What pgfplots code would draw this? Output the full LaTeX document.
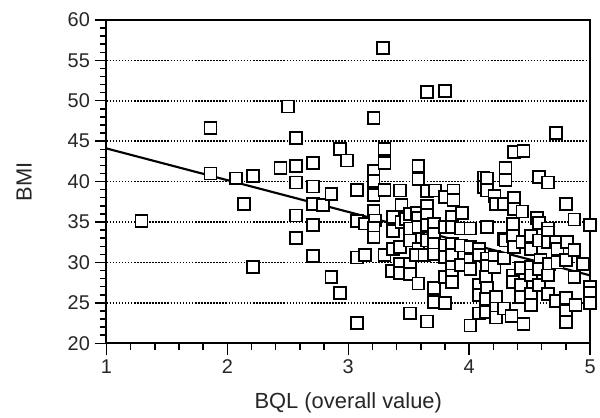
\documentclass[border=0pt]{standalone}
\usepackage{fontspec}
\setmainfont{Liberation Sans}
\usepackage{pgfplots}
\usepackage{pgfplotstable}
\pgfplotsset{compat=1.18}

% BQL vs BMI
\pgfplotstableread{
x y
1.29 35.1
1.86 46.6
1.86 41.0
2.07 40.4
2.14 37.2
2.21 40.7
2.21 29.4
2.44 41.7
2.50 49.3
2.57 45.4
2.57 41.9
2.57 39.9
2.57 35.8
2.57 33.0
2.71 42.3
2.71 39.4
2.71 37.2
2.71 34.6
2.71 30.8
2.79 37.1
2.86 38.5
2.86 28.2
2.93 44.0
2.93 26.2
2.99 42.6
3.07 39.0
3.07 35.1
3.07 30.6
3.07 22.5
3.14 34.8
3.14 30.9
3.21 47.9
3.21 41.3
3.21 40.1
3.21 38.3
3.21 36.4
3.22 35.2
3.21 34.3
3.21 33.1
3.29 56.5
3.30 44.0
3.30 42.3
3.30 39.0
3.30 30.9
3.37 35.6
3.37 33.9
3.37 31.7
3.36 28.9
3.43 38.9
3.44 37.1
3.44 35.0
3.48 35.4
3.43 31.9
3.43 29.8
3.43 28.7
3.51 36.0
3.51 34.2
3.51 32.7
3.51 29.8
3.51 28.6
3.51 23.7
3.57 36.1
3.58 41.9
3.58 40.3
3.58 35.5
3.58 34.4
3.58 31.7
3.56 30.9
3.58 27.4
3.65 51.1
3.65 38.8
3.65 37.0
3.65 35.9
3.65 34.6
3.65 32.7
3.63 30.9
3.65 22.7
3.72 38.9
3.71 34.8
3.71 33.5
3.71 32.3
3.71 31.0
3.71 26.8
3.71 25.1
3.80 51.2
3.80 38.1
3.80 34.4
3.80 32.1
3.80 30.7
3.80 28.2
3.80 25.0
3.87 38.9
3.87 37.7
3.86 35.6
3.86 34.4
3.86 32.3
3.86 30.9
3.86 29.4
3.86 28.4
3.86 27.6
3.94 36.1
3.93 34.2
3.93 32.1
3.93 29.7
4.01 34.2
4.01 31.9
4.01 30.3
4.01 29.2
4.01 22.2
4.08 31.7
4.08 30.9
4.08 27.2
4.08 26.0
4.08 23.7
4.12 40.5
4.12 39.3
4.15 40.4
4.15 38.9
4.15 34.4
4.15 30.5
4.15 29.6
4.14 28.2
4.15 26.8
4.14 25.5
4.14 23.9
4.21 38.2
4.22 37.2
4.21 30.7
4.21 29.4
4.22 25.7
4.22 24.3
4.22 23.2
4.29 37.2
4.29 32.9
4.29 30.5
4.29 24.3
4.30 41.7
4.30 40.2
4.30 32.7
4.37 43.7
4.37 38.0
4.37 36.6
4.36 34.8
4.36 33.3
4.37 31.9
4.36 28.4
4.36 27.6
4.35 23.4
4.45 43.8
4.44 36.3
4.44 32.5
4.43 29.3
4.43 27.2
4.43 25.7
4.45 22.4
4.51 33.3
4.51 31.7
4.51 29.4
4.51 28.4
4.51 26.1
4.51 24.7
4.56 35.5
4.58 40.6
4.58 34.9
4.58 32.7
4.59 30.3
4.58 29.2
4.58 27.2
4.65 39.9
4.65 34.2
4.65 33.7
4.65 32.5
4.66 29.8
4.65 28.4
4.65 26.1
4.72 46.0
4.72 32.5
4.73 31.7
4.73 30.0
4.72 25.2
4.80 37.2
4.80 30.3
4.80 25.6
4.80 24.0
4.80 22.6
4.81 32.5
4.87 35.3
4.87 31.5
4.87 28.2
4.88 24.7
4.94 29.8
5.00 34.6
5.00 27.0
5.00 26.2
5.00 25.0
}\bqlbmi

\begin{document}
\begin{tikzpicture}
\begin{axis}[
  name=ax,
  scale only axis,
  width=364.5pt, height=243.75pt,
  xmin=1, xmax=5, ymin=20, ymax=60,
  xtick={1,2,3,4,5}, ytick={20,25,...,60},
  minor x tick num=4, minor y tick num=4,
  tick pos=left, tick align=outside,
  major tick length=9pt, minor tick length=5pt,
  tick style={black, line width=1.1pt},
  axis line style={line width=1.5pt},
  ymajorgrids,
  major grid style={black, line width=1.2pt, dash pattern=on 1.2pt off 1.1pt},
  tick label style={font=\fontsize{15}{17}\selectfont, text=black!85},
  /pgf/number format/assume math mode=true,
  xlabel={BQL (overall value)}, ylabel={BMI},
  every axis x label/.style={at={(rel axis cs:0.5,0)}, yshift=-45pt, anchor=center,
    font=\fontsize{16.5}{18}\selectfont, text=black!85},
  every axis y label/.style={at={(rel axis cs:0,0.5)}, xshift=-62pt, rotate=90, anchor=center,
    font=\fontsize{16.5}{18}\selectfont, text=black!85},
  clip=false,
]
  \addplot[only marks, mark=square*, mark size=4.5pt,
    mark options={fill=white, draw=black, line width=1.3pt}] table {\bqlbmi};
  \addplot[black, line width=1.6pt] coordinates {(1,44.1) (5,28.4)};
\end{axis}
\path ([xshift=-80.25pt,yshift=-55.5pt]ax.south west) ([xshift=5.25pt,yshift=15pt]ax.north east);
\end{tikzpicture}
\end{document}
